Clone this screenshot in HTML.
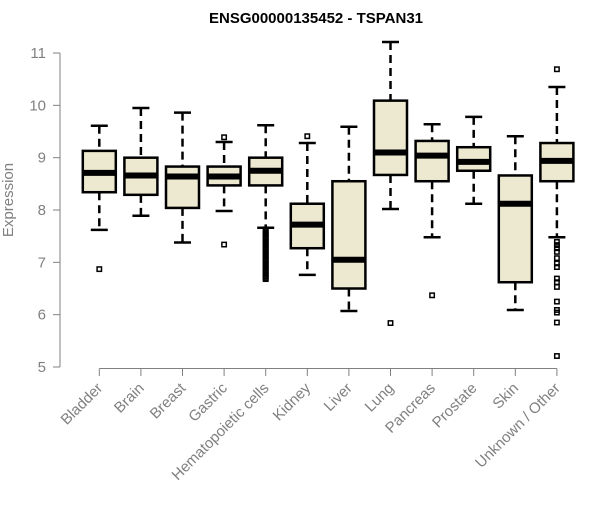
<!DOCTYPE html>
<html><head><meta charset="utf-8"><style>
html,body{margin:0;padding:0;background:#fff;}
svg text{font-family:"Liberation Sans",Arial,sans-serif;}
</style></head><body>
<svg id="chart" width="600" height="500" viewBox="0 0 600 500">
<text x="316" y="23" text-anchor="middle" font-size="15" font-weight="bold" fill="#000">ENSG00000135452 - TSPAN31</text>
<text transform="translate(13,200) rotate(-90)" text-anchor="middle" font-size="15" fill="#808080">Expression</text>
<g id="yaxis"></g>
<g id="xaxis"></g>
<g id="boxes"></g>
</svg>
<script>
const categories=["Bladder","Brain","Breast","Gastric","Hematopoietic cells","Kidney","Liver","Lung","Pancreas","Prostate","Skin","Unknown / Other"];
const whiskerLow=[7.62,7.89,7.38,7.98,7.66,6.76,6.07,8.02,7.48,8.12,6.09,7.48];
const q1=[8.34,8.29,8.04,8.47,8.47,7.27,6.50,8.67,8.55,8.75,6.62,8.55];
const medians=[8.71,8.66,8.64,8.64,8.75,7.72,7.05,9.10,9.04,8.92,8.12,8.94];
const q3=[9.13,9.00,8.83,8.83,9.00,8.12,8.55,10.09,9.32,9.20,8.66,9.28];
const whiskerHigh=[9.61,9.95,9.86,9.30,9.62,9.28,9.59,11.21,9.64,9.78,9.41,10.35];
const outliers=[[6.87],[],[],[9.39,7.34],
[7.63,7.60,7.57,7.54,7.51,7.48,7.45,7.42,7.39,7.36,7.33,7.30,7.27,7.24,7.21,7.18,7.15,7.12,7.09,7.06,7.03,7.00,6.97,6.94,6.91,6.88,6.85,6.82,6.79,6.76,6.73,6.70,6.68],
[9.41],[],[5.84],[6.37],[],[],
[10.69,7.39,7.33,7.27,7.20,7.08,6.98,6.91,6.69,6.62,6.53,6.25,6.09,6.04,5.85,5.21]];
const yTicks=[5,6,7,8,9,10,11];

const NS="http://www.w3.org/2000/svg";
function y(v){return 367-(v-5)*52.33;}
function x(i){return 99.3+i*41.6;}
function mk(tag,attrs,parent){const e=document.createElementNS(NS,tag);for(const k in attrs)e.setAttribute(k,attrs[k]);parent.appendChild(e);return e;}
const ya=document.getElementById('yaxis'),xa=document.getElementById('xaxis'),bx=document.getElementById('boxes');
const gray="#808080";
let l=mk('line',{x1:60,x2:60,y1:y(11),y2:y(5),stroke:gray,'stroke-width':1},ya);


yTicks.forEach(t=>{
 let tk=mk('line',{x1:53,x2:60,y1:y(t),y2:y(t),stroke:gray,'stroke-width':1},ya);
 
 
 let tx=mk('text',{x:46,y:y(t)+5,'text-anchor':'end','font-size':15,fill:gray},ya);
 tx.textContent=t;
 
 
});
let xl=mk('line',{x1:x(0),x2:x(categories.length-1),y1:368.5,y2:368.5,stroke:gray,'stroke-width':1},xa);


categories.forEach((c,i)=>{
 let tk=mk('line',{x1:x(i),x2:x(i),y1:368.5,y2:376,stroke:gray,'stroke-width':1},xa);
 
 
 let tx=mk('text',{'text-anchor':'end','font-size':15,fill:gray,transform:`translate(${x(i)+4},${389}) rotate(-45)`},xa);
 tx.textContent=c;
 
 
});
categories.forEach((c,i)=>{
 const g=mk('g',{},bx);
 
 
 const cx=x(i),hw=16.5,cw=8.5;
 mk('line',{x1:cx,x2:cx,y1:y(whiskerHigh[i]),y2:y(q3[i]),stroke:'#000','stroke-width':2.5,'stroke-dasharray':'8,5'},g);
 mk('line',{x1:cx,x2:cx,y1:y(q1[i]),y2:y(whiskerLow[i]),stroke:'#000','stroke-width':2.5,'stroke-dasharray':'8,5'},g);
 mk('line',{x1:cx-cw,x2:cx+cw,y1:y(whiskerHigh[i]),y2:y(whiskerHigh[i]),stroke:'#000','stroke-width':2.5},g);
 mk('line',{x1:cx-cw,x2:cx+cw,y1:y(whiskerLow[i]),y2:y(whiskerLow[i]),stroke:'#000','stroke-width':2.5},g);
 mk('rect',{x:cx-hw,y:y(q3[i]),width:hw*2,height:y(q1[i])-y(q3[i]),fill:'#ede8d0',stroke:'#000','stroke-width':2.5},g);
 mk('line',{x1:cx-hw,x2:cx+hw,y1:y(medians[i]),y2:y(medians[i]),stroke:'#000','stroke-width':6},g);
 outliers[i].forEach(v=>{
  const p=mk('rect',{x:cx-2.2,y:y(v)-2.2,width:4.4,height:4.4,fill:'none',stroke:'#000','stroke-width':1.5},g);
  
  
 });
});
</script>
</body></html>
